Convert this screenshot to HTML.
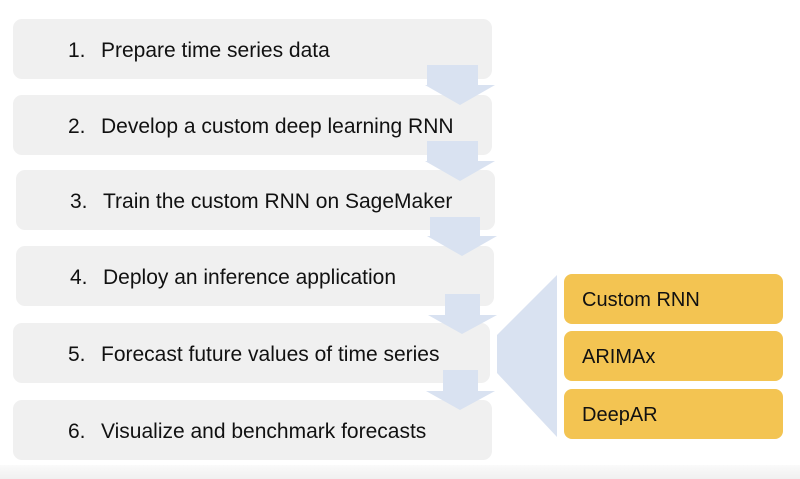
<!DOCTYPE html>
<html><head><style>
body{margin:0;width:800px;height:479px;background:#fff;position:relative;overflow:hidden;font-family:"Liberation Sans",sans-serif;}
.b{position:absolute;background:#f0f0f0;border-radius:9px;height:60px;}
.t{position:absolute;font-size:21px;color:#111;line-height:22px;}
.t span{display:inline-block;width:33px;}
.o{position:absolute;left:564px;width:219px;height:50px;background:#f3c452;border-radius:8px;font-size:20px;line-height:52px;color:#111;text-indent:18px;}
svg{position:absolute;left:0;top:0;}
</style></head><body>
<div style="position:absolute;left:0;top:465px;width:800px;height:14px;background:linear-gradient(#fafafa,#f0f0f0)"></div>
<div class="b" style="left:13px;top:19px;width:479px"></div>
<div class="b" style="left:13px;top:95px;width:479px"></div>
<div class="b" style="left:16px;top:170px;width:479px"></div>
<div class="b" style="left:16px;top:246px;width:478px"></div>
<div class="b" style="left:13px;top:323px;width:477px"></div>
<div class="b" style="left:13px;top:400px;width:479px"></div>
<svg width="800" height="479">
<g fill="#d9e2f1">
<polygon points="427,65 478,65 478,85 495,85 460,105 425,85 427,85"/>
<polygon points="427,141 478,141 478,161 495,161 460,181 425,161 427,161"/>
<polygon points="430,217 480,217 480,236 497,236 462,256 427,236 430,236"/>
<polygon points="445,294 480,294 480,315 497,315 462,334 428,315 445,315"/>
<polygon points="443,370 478,370 478,391 495,391 460,410 426,391 443,391"/>
<polygon points="497,335 557,275 557,437 497,373"/>
</g>
</svg>
<div class="t" style="left:68px;top:40px"><span>1.</span>Prepare time series data</div>
<div class="t" style="left:68px;top:116px"><span>2.</span>Develop a custom deep learning RNN</div>
<div class="t" style="left:70px;top:191px"><span>3.</span>Train the custom RNN on SageMaker</div>
<div class="t" style="left:70px;top:267px"><span>4.</span>Deploy an inference application</div>
<div class="t" style="left:68px;top:344px"><span>5.</span>Forecast future values of time series</div>
<div class="t" style="left:68px;top:421px"><span>6.</span>Visualize and benchmark forecasts</div>
<div class="o" style="top:274px">Custom RNN</div>
<div class="o" style="top:331px">ARIMAx</div>
<div class="o" style="top:389px">DeepAR</div>
</body></html>
